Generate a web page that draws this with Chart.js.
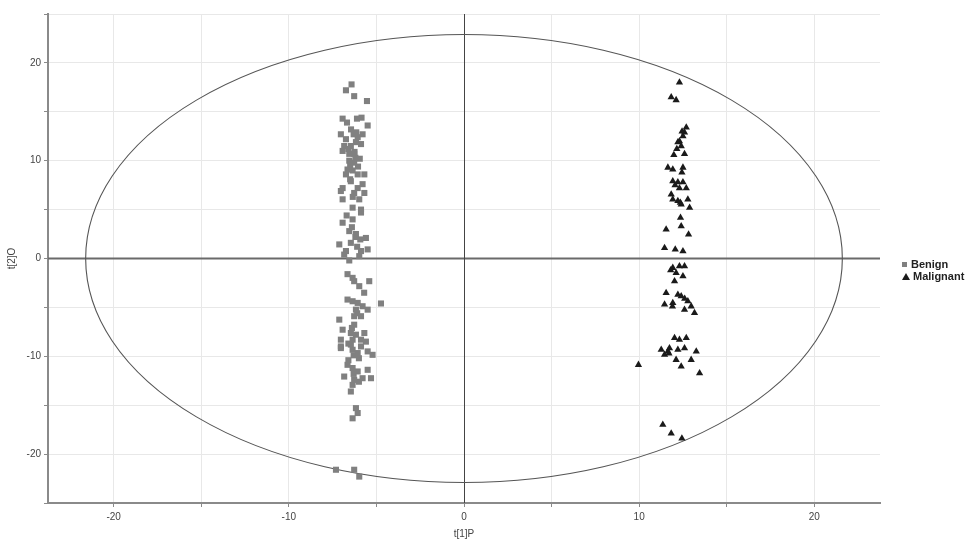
<!DOCTYPE html>
<html>
<head>
<meta charset="utf-8">
<script src="https://cdn.jsdelivr.net/npm/chart.js@4/dist/chart.umd.min.js"></script>
<style>
  html, body { margin: 0; padding: 0; background: #fff; }
  #wrap { position: relative; width: 978px; height: 542px; }
  #legend { position: absolute; left: 902px; top: 258px; font: bold 11px 'Liberation Sans', Arial, sans-serif; color: #222; line-height: 12px; }
  #legend .mk { display: inline-block; margin-right: 4px; }
  #legend .sq { width: 5px; height: 5px; background: #808080; vertical-align: 1px; }
  #legend .tri { width: 0; height: 0; border-left: 4px solid transparent; border-right: 4px solid transparent; border-bottom: 7px solid #1a1a1a; vertical-align: 0; margin-right: 3px; }
</style>
</head>
<body>
<div id="wrap">
  <canvas id="scoreChart" width="978" height="542"></canvas>
  <div id="legend">
    <div><span class="mk sq"></span>Benign</div>
    <div><span class="mk tri"></span>Malignant</div>
  </div>
</div>
<script>
// Score values: t[1]P (x) and t[2]O (y)
const benignX = [
  -6.42, -6.74, -6.27, -5.54, -6.93, -6.68, -6.11, -5.85, -5.50, -7.03,
  -6.74, -6.30, -6.07, -5.79, -6.84, -6.46, -6.17, -5.88, -6.93, -6.55,
  -6.27, -6.55, -6.27, -6.65, -6.36, -6.07, -6.74, -5.69, -6.93, -6.46,
  -6.07, -5.79, -7.03, -6.27, -5.69, -6.93, -5.98, -6.36, -5.88, -6.93,
  -6.36, -5.88, -6.55, -6.17, -5.60, -5.92, -7.12, -6.74, -6.46, -6.84,
  -5.88, -5.50, -5.98, -6.65, -6.36, -6.27, -5.98, -5.41, -6.65, -6.36,
  -6.07, -5.79, -5.50, -4.74, -6.17, -6.27, -5.88, -7.12, -6.93, -6.27,
  -5.69, -6.46, -6.17, -7.03, -6.36, -5.88, -5.60, -7.03, -6.46, -7.03,
  -6.36, -5.88, -5.50, -5.22, -6.07, -6.65, -6.36, -6.07, -5.50, -5.31,
  -5.79, -6.84, -6.27, -6.36, -6.46, -6.17, -6.07, -6.36, -7.31, -6.27,
  -5.98, -6.20, -6.50, -5.95, -6.40, -6.10, -6.60, -6.00, -6.30, -5.70,
  -6.45, -6.15, -6.60, -6.25, -6.05, -6.50, -6.35, -6.70, -6.20, -6.55,
  -6.10, -6.40, -6.30, -6.60, -6.00
];
const benignY = [
  17.8, 17.2, 16.6, 16.1, 14.3, 13.9, 14.3, 14.4, 13.6, 12.7,
  12.2, 12.7, 12.4, 12.7, 11.5, 11.5, 11.9, 11.7, 11.0, 10.7,
  10.7, 10.0, 9.8, 9.1, 9.0, 8.6, 8.6, 8.6, 7.2, 7.9,
  7.2, 7.6, 6.9, 6.7, 6.7, 6.05, 6.05, 5.2, 5.0, 3.66,
  4.0, 4.7, 2.8, 2.5, 2.1, 1.95, 1.44, 0.76, 1.6, 0.4,
  0.76, 0.93, 0.24, -1.6, -1.98, -2.32, -2.83, -2.32, -4.2, -4.37,
  -4.54, -4.88, -5.23, -4.6, -5.23, -5.9, -5.9, -6.25, -7.28, -6.77,
  -7.62, -7.62, -7.79, -8.3, -8.3, -8.3, -8.5, -8.99, -8.8, -9.16,
  -9.33, -8.99, -9.5, -9.85, -9.67, -10.87, -11.2, -11.55, -11.38, -12.24,
  -12.24, -12.07, -12.41, -12.92, -13.6, -15.3, -15.8, -16.34, -21.6, -21.6,
  -22.3, 10.3, 9.5, 10.2, 3.2, 1.2, -8.7, -10.2, -11.8, -3.5,
  13.2, 12.9, 11.2, 10.9, 9.4, 8.1, 6.3, 4.4, 2.2, -0.2,
  -5.6, -7.1, -9.9, -10.4, -12.6
];
const malignantX = [
  12.30, 11.83, 12.11, 12.69, 12.59, 12.50, 12.30, 12.40, 12.21, 11.98,
  12.59, 11.64, 11.92, 12.50, 12.44, 11.92, 12.21, 12.50, 12.69, 12.30,
  11.83, 11.92, 12.21, 12.40, 12.78, 12.88, 12.36, 12.40, 11.54, 12.82,
  11.45, 12.06, 12.50, 11.92, 12.30, 12.59, 12.11, 12.50, 12.02, 11.54,
  11.45, 11.92, 12.21, 12.40, 12.78, 12.97, 12.59, 13.16, 12.02, 12.30,
  12.69, 11.26, 11.64, 11.73, 11.45, 12.21, 12.59, 12.11, 12.97, 13.26,
  12.40, 13.45, 9.96, 11.35, 11.83, 12.44, 12.45, 12.15, 12.05, 12.35,
  11.80, 12.60, 11.70, 11.90
];
const malignantY = [
  18.0, 16.5, 16.2, 13.4, 12.9, 12.5, 12.0, 11.5, 11.9, 10.6,
  10.7, 9.3, 9.1, 9.3, 8.8, 7.9, 7.8, 7.8, 7.2, 7.2,
  6.56, 6.05, 5.88, 5.53, 6.05, 5.2, 4.17, 3.3, 2.97, 2.46,
  1.09, 0.92, 0.75, -0.95, -0.78, -0.78, -1.47, -1.81, -2.32, -3.52,
  -4.7, -4.54, -3.69, -3.86, -4.37, -4.89, -5.23, -5.57, -8.13, -8.3,
  -8.13, -9.33, -9.5, -9.16, -9.84, -9.33, -9.16, -10.36, -10.36, -9.5,
  -11.04, -11.72, -10.87, -17.0, -17.88, -18.39, 13.0, 11.2, 7.5, 5.7,
  -1.2, -4.1, -9.7, -4.9
];

// Axis ranges and the confidence ellipse semi-axes (in data units)
const xRange = [-23.75, 23.75];
const yRange = [-25, 25];
const ellipseAxes = [21.6, 22.9];

const toPoints = (xs, ys) => xs.map((x, i) => ({ x: x, y: ys[i] }));
const fonts = { family: "'Liberation Sans', Arial, sans-serif", size: 10 };

// Zero lines + ellipse, drawn under the points
const overlayPlugin = {
  id: 'overlay',
  beforeDatasetsDraw(chart) {
    const { ctx, chartArea: a, scales: { x, y } } = chart;
    const cx = x.getPixelForValue(0);
    const cy = y.getPixelForValue(0);
    ctx.save();
    ctx.strokeStyle = '#6a6a6a';
    ctx.lineWidth = 2;
    ctx.beginPath();
    ctx.moveTo(a.left, cy);
    ctx.lineTo(a.right, cy);
    ctx.stroke();
    ctx.strokeStyle = '#444';
    ctx.lineWidth = 1;
    ctx.beginPath();
    ctx.moveTo(Math.round(cx) + 0.5, a.top);
    ctx.lineTo(Math.round(cx) + 0.5, a.bottom);
    ctx.stroke();
    const rx = x.getPixelForValue(ellipseAxes[0]) - cx;
    const ry = cy - y.getPixelForValue(ellipseAxes[1]);
    ctx.strokeStyle = '#555';
    ctx.lineWidth = 1.1;
    ctx.beginPath();
    ctx.ellipse(cx, cy, rx, ry, 0, 0, Math.PI * 2);
    ctx.stroke();
    ctx.restore();
  }
};

const keepFives = (scale) => {
  scale.ticks = scale.ticks.filter(t => Math.abs(t.value % 5) < 1e-6);
};
const tensOnly = (v) => (Math.abs(v % 10) < 1e-6 ? v : '');

const ctx = document.getElementById('scoreChart').getContext('2d');
new Chart(ctx, {
  type: 'scatter',
  data: {
    datasets: [
      {
        label: 'Benign',
        data: toPoints(benignX, benignY),
        pointStyle: 'rect',
        pointRadius: 4.3,
        backgroundColor: '#808080',
        borderColor: '#808080',
        borderWidth: 0
      },
      {
        label: 'Malignant',
        data: toPoints(malignantX, malignantY),
        pointStyle: 'triangle',
        pointRadius: 4.2,
        backgroundColor: '#1a1a1a',
        borderColor: '#1a1a1a',
        borderWidth: 0
      }
    ]
  },
  options: {
    responsive: false,
    animation: false,
    layout: { padding: { top: 14, right: 98, bottom: 0, left: 6 } },
    plugins: {
      legend: { display: false },
      tooltip: { enabled: false }
    },
    scales: {
      x: {
        type: 'linear',
        min: xRange[0],
        max: xRange[1],
        afterBuildTicks: keepFives,
        afterFit: (s) => { s.height = 39; },
        border: { color: '#8a8a8a', width: 2 },
        grid: { color: '#e8e8e8', tickLength: 4, tickColor: '#8a8a8a' },
        ticks: { font: fonts, color: '#444', padding: 4, callback: tensOnly, autoSkip: false, maxRotation: 0 },
        title: { display: true, text: 't[1]P', font: fonts, color: '#444', padding: { top: 2, bottom: 2 } }
      },
      y: {
        type: 'linear',
        min: yRange[0],
        max: yRange[1],
        afterBuildTicks: keepFives,
        afterFit: (s) => { s.width = 42; },
        border: { color: '#8a8a8a', width: 2 },
        grid: { color: '#e8e8e8', tickLength: 4, tickColor: '#8a8a8a' },
        ticks: { font: fonts, color: '#444', padding: 3, callback: tensOnly, autoSkip: false },
        title: { display: true, text: 't[2]O', font: fonts, color: '#444', padding: { top: 0, bottom: 4 } }
      }
    }
  },
  plugins: [overlayPlugin]
});
</script>
</body>
</html>
